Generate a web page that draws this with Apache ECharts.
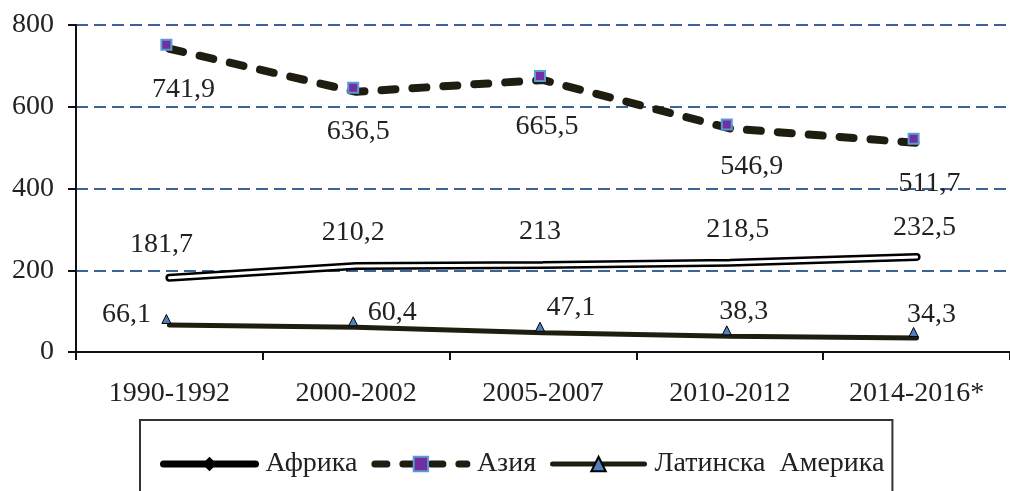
<!DOCTYPE html>
<html>
<head>
<meta charset="utf-8">
<script src="https://cdn.jsdelivr.net/npm/echarts@6/dist/echarts.min.js"></script>
<style>
  html, body { margin: 0; padding: 0; background: #fff; }
  #main { width: 1010px; height: 491px; }
</style>
</head>
<body>
<div id="main"></div>
<script>
// data
var periods = ['1990-1992', '2000-2002', '2005-2007', '2010-2012', '2014-2016*'];
var africa = [181.7, 210.2, 213, 218.5, 232.5];
var asia = [741.9, 636.5, 665.5, 546.9, 511.7];
var latinAmerica = [66.1, 60.4, 47.1, 38.3, 34.3];
var yTicks = [0, 200, 400, 600, 800];

var FONT = "'Liberation Serif', 'Times New Roman', serif";
var INK = '#1f1c10';

function fmt(v) {
  return String(v).replace('.', ',');
}

// label nudges, the labels in the picture are not centred on points
var africaOffsets = [[-8, 0], [-3, 0], [-3, 0], [8, 0], [8, 4]];
var asiaOffsets = [[17, -1], [5, -2], [7, 5], [25, -4], [16, -1]];
var latOffsets = [[-40, 29], [39, 24], [31, 14], [17, 14], [18, 16]];

function withOffsets(values, offsets) {
  return values.map(function (v, i) {
    return { value: v, label: { offset: offsets[i] } };
  });
}

var chart = echarts.init(document.getElementById('main'));

var labelBase = {
  show: true,
  fontFamily: FONT,
  fontSize: 28,
  color: '#222',
  formatter: function (p) { return fmt(p.value); }
};

var option = {
  backgroundColor: '#fff',
  animation: false,
  textStyle: { fontFamily: FONT },
  grid: { left: 76, right: 0, top: 25, bottom: 139 },
  legend: {
    data: [
      { name: 'Африка', lineStyle: { width: 7, cap: 'round' } },
      { name: 'Азия', lineStyle: { width: 7, type: [12, 16], cap: 'round' } },
      { name: 'Латинска Америка', lineStyle: { width: 5, cap: 'round' } }
    ],
    left: 140,
    top: 420,
    padding: [30, 8, 40, 20],
    itemWidth: 92,
    itemHeight: 18,
    itemGap: 14,
    borderColor: '#333',
    borderWidth: 2,
    formatter: function (name) { return name.replace(' ', '  '); },
    textStyle: { fontFamily: FONT, fontSize: 28, color: '#222', padding: [0, 0, 0, 5] }
  },
  xAxis: {
    type: 'category',
    data: periods,
    boundaryGap: true,
    axisLine: { lineStyle: { color: '#111', width: 2 } },
    axisTick: { show: true, length: 8, lineStyle: { color: '#111', width: 2 } },
    axisLabel: { margin: 28, fontFamily: FONT, fontSize: 28, color: '#222' },
    splitLine: { show: false }
  },
  yAxis: {
    type: 'value',
    min: yTicks[0],
    max: yTicks[yTicks.length - 1],
    interval: 200,
    axisLine: { show: true, lineStyle: { color: '#111', width: 2 } },
    axisTick: { show: true, length: 8, lineStyle: { color: '#111', width: 2 } },
    axisLabel: { margin: 22, fontFamily: FONT, fontSize: 28, color: '#222' },
    splitLine: { show: true, lineStyle: { color: '#3c6496', width: 2, type: [12, 6] } }
  },
  series: [
    {
      name: 'Африка',
      type: 'line',
      data: withOffsets(africa, africaOffsets),
      symbol: 'diamond',
      symbolSize: 1,
      itemStyle: { color: '#000' },
      lineStyle: { color: '#000', width: 8, cap: 'round' },
      label: Object.assign({}, labelBase, { position: 'top', distance: 19 }),
      z: 3
    },
    {
      name: 'Африка-inner',
      type: 'line',
      data: africa,
      symbol: 'none',
      lineStyle: { color: '#fff', width: 3, cap: 'round' },
      silent: true,
      z: 4
    },
    {
      name: 'Азия',
      type: 'line',
      data: withOffsets(asia, asiaOffsets),
      symbol: 'rect',
      symbolSize: 10,
      symbolOffset: [-3, -4],
      itemStyle: { color: '#7030a0', borderColor: '#5b9bd5', borderWidth: 2 },
      lineStyle: { color: INK, width: 8, type: [14, 17], cap: 'round' },
      label: Object.assign({}, labelBase, { position: 'bottom', distance: 26 }),
      z: 5
    },
    {
      name: 'Латинска Америка',
      type: 'line',
      data: withOffsets(latinAmerica, latOffsets),
      symbol: 'triangle',
      symbolSize: 9,
      symbolOffset: [-3, -6],
      itemStyle: { color: '#4f81bd', borderColor: '#000', borderWidth: 1 },
      lineStyle: { color: INK, width: 5, cap: 'round' },
      label: Object.assign({}, labelBase, { position: 'top', distance: 14 }),
      z: 5
    }
  ]
};

chart.setOption(option);
</script>
</body>
</html>
